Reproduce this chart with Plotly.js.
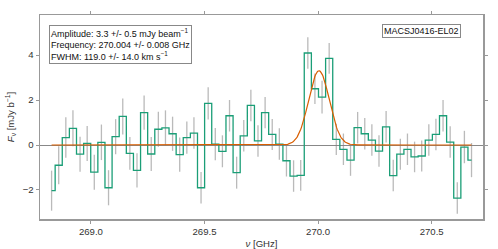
<!DOCTYPE html>
<html>
<head>
<meta charset="utf-8">
<script src="https://cdn.plot.ly/plotly-3.0.1.min.js"></script>
<style>html,body{margin:0;padding:0;background:#fff;}#chart{width:498px;height:249px;}</style>
</head>
<body>
<div id="chart"></div>
<script>
// Channel grid (GHz)
const firstChannel = 268.827;
const channelWidth = 0.03133;
const fluxValues = [
  -2.03, -0.90, 0.33, 0.74, -0.41, 0.07, -1.21, 0.12, -1.90, 0.37,
  1.27, -0.37, -1.13, 1.44, -0.40, 0.70, 0.76, 0.50, -0.43, 0.33,
  0.53, -1.90, 1.85, 0.04, -0.28, 1.30, -1.23, 0.41, 1.76, 0.18,
  1.44, 0.47, 0.04, -0.70, -1.38, -1.35, 4.09, 2.50, 2.13, 3.85,
  0.25, -0.19, -0.67, 0.77, 0.50, 0.22, -0.27, 0.81, -1.36, -0.41,
  -0.19, -0.53, -0.49, 0.22, 0.47, 1.30, 0.13, -2.36, -0.09, -0.67
];
const fluxErrors = [
  0.89, 0.85, 0.90, 0.80, 0.78, 0.78, 0.78, 0.79, 0.78, 0.78,
  0.80, 0.73, 0.76, 0.76, 0.76, 0.78, 0.78, 0.76, 0.76, 0.72,
  0.70, 0.70, 0.72, 0.72, 0.71, 0.70, 0.71, 0.70, 0.70, 0.70,
  0.69, 0.69, 0.70, 0.70, 0.70, 0.68, 0.70, 0.68, 0.73, 0.68,
  0.70, 0.70, 0.70, 0.70, 0.70, 0.70, 0.70, 0.70, 0.70, 0.69,
  0.70, 0.68, 0.69, 0.70, 0.70, 0.70, 0.70, 0.70, 0.72, 0.76
];
// Fit parameters (as printed in the box)
const fitAmplitude = 3.3;      // mJy/beam
const fitCenter = 270.004;     // GHz
const fitFWHMkms = 119.0;      // km/s
const xTicks = [269.0, 269.5, 270.0, 270.5];
const xTickText = ['269.0', '269.5', '270.0', '270.5'];
const yTicks = [-2, 0, 2, 4];
const yTickText = ['−2', '0', '2', '4'];

const freqs = fluxValues.map((v, i) => firstChannel + i * channelWidth);

// Gaussian model from fit parameters, evaluated over the channel range
const cKms = 299792.458;
const sigmaGHz = (fitFWHMkms / cKms * fitCenter) / 2.35482;
const modelX = [], modelY = [];
const nModel = 600;
const xStart = freqs[0], xEnd = freqs[freqs.length - 1];
for (let k = 0; k <= nModel; k++) {
  const x = xStart + (xEnd - xStart) * k / nModel;
  modelX.push(x);
  modelY.push(fitAmplitude * Math.exp(-0.5 * Math.pow((x - fitCenter) / sigmaGHz, 2)));
}

const font = "'Liberation Sans', Arial, sans-serif";

const traces = [
  {
    x: freqs, y: fluxValues, type: 'scatter', mode: 'markers',
    marker: {size: 1, color: 'rgba(0,0,0,0)'},
    error_y: {type: 'data', array: fluxErrors, visible: true, color: 'rgba(130,130,130,0.55)', thickness: 1.3, width: 0},
    hoverinfo: 'skip', showlegend: false
  },
  {
    x: freqs, y: fluxValues, type: 'scatter', mode: 'lines',
    line: {shape: 'hvh', color: '#1b9e77', width: 1.3},
    showlegend: false
  },
  {
    x: modelX, y: modelY, type: 'scatter', mode: 'lines',
    line: {color: '#d95f02', width: 1.2},
    showlegend: false
  }
];

const axisCommon = {
  showline: true, linecolor: '#999999', linewidth: 1.5, mirror: 'ticks',
  ticks: 'outside', ticklen: 3, tickwidth: 1, tickcolor: '#999999',
  showgrid: false,
  tickfont: {family: font, size: 9.6, color: '#333333'}
};

const layout = {
  width: 498, height: 249,
  margin: {l: 40, r: 15, t: 15, b: 30},
  paper_bgcolor: '#ffffff', plot_bgcolor: '#ffffff',
  xaxis: Object.assign({}, axisCommon, {
    range: [268.776, 270.726], tickvals: xTicks, ticktext: xTickText,
    zeroline: false,
    title: {text: '<i>ν</i> [GHz]', font: {family: font, size: 9.6, color: '#333333'}, standoff: 6}
  }),
  yaxis: Object.assign({}, axisCommon, {
    range: [-3.29, 5.78], tickvals: yTicks, ticktext: yTickText,
    zeroline: true, zerolinecolor: '#888888', zerolinewidth: 1,
    title: {text: '<i>F</i><sub>ν</sub> [mJy b<sup>−1</sup>]', font: {family: font, size: 9.6, color: '#333333'}, standoff: 6}
  }),
  annotations: [
    {
      xref: 'paper', yref: 'paper', x: 0.02, y: 0.953, xanchor: 'left', yanchor: 'top',
      align: 'left', showarrow: false,
      text: 'Amplitude: 3.3 +/- 0.5 mJy beam<sup>−1</sup><br>Frequency: 270.004 +/- 0.008 GHz<br>FWHM: 119.0 +/- 14.0 km s<sup>−1</sup>',
      font: {family: font, size: 9, color: '#111111'},
      bordercolor: '#888888', borderwidth: 1, borderpad: 1, bgcolor: '#ffffff'
    },
    {
      xref: 'paper', yref: 'paper', x: 0.951, y: 0.958, xanchor: 'right', yanchor: 'top',
      showarrow: false, text: 'MACSJ0416-EL02',
      font: {family: font, size: 9, color: '#111111'},
      bordercolor: '#888888', borderwidth: 1, borderpad: 1, bgcolor: '#ffffff'
    }
  ]
};

Plotly.newPlot('chart', traces, layout, {displayModeBar: false, staticPlot: true});
</script>
</body>
</html>
